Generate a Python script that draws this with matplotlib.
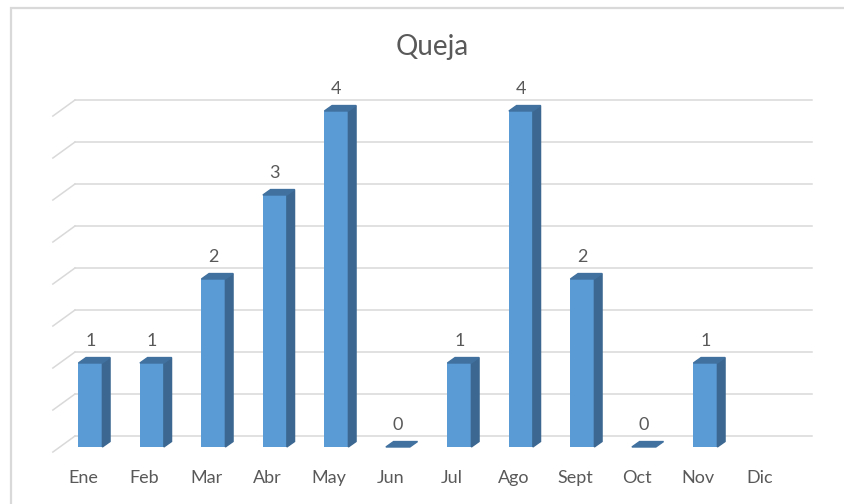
import numpy as np
import matplotlib
matplotlib.use("Agg")
import matplotlib.pyplot as plt
from matplotlib.patches import Polygon, Rectangle

plt.rcParams['font.family'] = ['Lato', 'DejaVu Sans']

meses = ["Ene", "Feb", "Mar", "Abr", "May", "Jun", "Jul", "Ago", "Sept", "Oct", "Nov", "Dic"]
quejas = [1, 1, 2, 3, 4, 0, 1, 4, 2, 0, 1, np.nan]
grid_vals = np.arange(0, 4.01, 0.5)

front_c = "#5B9BD5"
side_c = "#3B6791"
top_c = "#41719F"
text_c = "#595959"
grid_c = "#D9D9D9"

fig = plt.figure(figsize=(8.44, 5.04), dpi=100)
ax = fig.add_axes((0, 0, 1, 1))
# pixel mapping: x = (px - 83) / 61.5, y = (447 - py) / 84
ax.set_xlim(-83 / 61.5, (844 - 83) / 61.5)
ax.set_ylim((447 - 504) / 84, 447 / 84)
ax.axis("off")

# back wall gridlines + side wall diagonals
back_dy = 0.131
for v in grid_vals:
    ax.plot([-0.13, 11.85], [v + back_dy, v + back_dy], color=grid_c, lw=1.1, zorder=1)
    ax.plot([-0.49, -0.13], [v - 0.06, v + back_dy], color=grid_c, lw=1.1, zorder=1)

# 3D-ish columns
x = np.arange(len(meses))
off, w, dx, dy = 0.12, 0.39, 0.125, 0.065
for xi, v in zip(x, quejas):
    if np.isnan(v):
        continue
    xl, xr = xi + off - w / 2, xi + off + w / 2
    if v > 0:
        ax.bar(xi + off, v, width=w, color=front_c, zorder=3)
        ax.add_patch(Polygon([(xr, 0), (xr + dx, dy), (xr + dx, v + dy), (xr, v)],
                             closed=True, color=side_c, zorder=3))
    ax.add_patch(Polygon([(xl, v), (xr, v), (xr + dx, v + dy), (xl + dx, v + dy)],
                         closed=True, color=top_c, zorder=3))
    ax.text(xi + off, v + 0.26, "%d" % v, ha="center", va="center",
            fontsize=13, color=text_c, zorder=4)

for xi, m in zip(x, meses):
    ax.text(xi, -0.37, m, ha="center", va="center", fontsize=13, color=text_c)

fig.text(432 / 844, 1 - 47 / 504, "Queja", ha="center", va="center",
         fontsize=20, color=text_c)

# chart border
fig.patches.append(Rectangle((11 / 844, -0.05), 1.2, 1 - 8 / 504 + 0.05,
                             transform=fig.transFigure, fill=False,
                             edgecolor=grid_c, lw=1.6))

fig.savefig("out.png", dpi=100)
